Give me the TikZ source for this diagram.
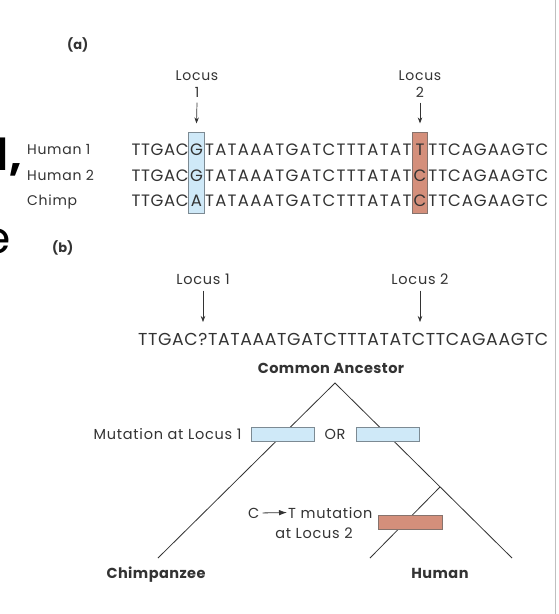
\documentclass[tikz,border=0pt]{standalone}
\usepackage{fontspec}
\setmainfont{Poppins}
\newfontfamily\trk[LetterSpace=5]{Poppins}
\newfontfamily\trkb[LetterSpace=3]{Poppins}
\usetikzlibrary{arrows.meta,fit,backgrounds,calc}
\definecolor{txt}{HTML}{333333}
\definecolor{bluef}{HTML}{CFE9F8}
\definecolor{blued}{HTML}{7C8A93}
\definecolor{salf}{HTML}{D48F7B}
\definecolor{sald}{HTML}{86736D}
\makeatletter
\newcommand\spreadto[2]{\hbox to #1{\@tfor\@sp:=#2\do{\@sp\hfil}\unskip}}
\makeatother
\begin{document}
\begin{tikzpicture}[x=1pt,y=-1pt,
  every node/.style={text=txt, inner sep=0pt},
  seq/.style={font=\fontsize{16.5}{18}\selectfont},
  seqb/.style={font=\fontsize{17.3}{19}\selectfont},
  lab/.style={font=\trk\fontsize{14}{17}\selectfont},
  labb/.style={font=\trk\fontsize{14.5}{17}\selectfont},
  bold/.style={font=\trkb\fontsize{14.5}{17}\selectfont\bfseries},
  tag/.style={font=\fontsize{13}{15}\selectfont\bfseries},
  ch/.style={seq, minimum width=15pt, anchor=base, text height=12pt, text depth=0pt},
  arr/.style={draw=txt, line width=0.7pt, -{Stealth[length=6pt,width=4.5pt]}},
  tree/.style={draw=txt, line width=0.8pt},
  bbox/.style={draw=blued, fill=bluef, line width=0.8pt, minimum width=63pt, minimum height=14pt},
  sbox/.style={draw=sald, fill=salf, line width=0.8pt, minimum width=64pt, minimum height=14pt},
  hl/.style={line width=0.8pt, inner sep=0pt},
  frag/.style={text=black, font=\fontsize{44}{44}\selectfont\bfseries}
]
\useasboundingbox (0,0) rectangle (558,614);
\begin{scope}[on background layer]
  \fill[white] (0,0) rectangle (558,614);
\end{scope}
\draw[black!25, line width=1.2pt] (555.5,0) -- (555.5,614);

% page fragments at the left edge
\node[frag, anchor=base east] (fd) at (9,170) {d};
\node[frag, anchor=base west] (fc) at (fd.base east) {,};
\node[frag, anchor=base east, font=\fontsize{44}{44}\selectfont] (fe) at (11,253) {e};

% ---------- (a) ----------
\node[tag, anchor=west] (ta) at (67,45) {(a)};

\node[lab, align=center] (l1) at (197,84) {Locus\\1};
\node[lab, align=center] (l2) at (420,84) {Locus\\2};

\node[lab, anchor=base west] (h1) at (27,154) {Human 1};
\node[lab, anchor=base west] (h2) at (27,180) {Human 2};
\node[lab, anchor=base west] (cp) at (27,205) {Chimp};

% characters at the two loci
\node[ch] (g1) at (196.5,155) {G};
\node[ch] (g2) at (196.5,181) {G};
\node[ch] (g3) at (196.5,206) {A};
\node[ch] (t1) at (420,155) {T};
\node[ch] (t2) at (420,181) {C};
\node[ch] (t3) at (420,206) {C};

\begin{scope}[on background layer]
  \node[hl, draw=blued, fill=bluef, fit={([yshift=10pt]g1.north west) ([yshift=-7pt]g3.south east)}] (box1) {};
  \node[hl, draw=sald, fill=salf, fit={([yshift=10pt]t1.north west) ([yshift=-7pt]t3.south east)}] (box2) {};
\end{scope}

\foreach \r/\a/\b in {1/g1/t1, 2/g2/t2, 3/g3/t3}{
  \node[seq, anchor=base east] (p\r) at (\a.base west) {\spreadto{57pt}{TTGAC}};
  \node[seq, anchor=base] (m\r) at ($(\a.base east)!0.5!(\b.base west)$) {\spreadto{206.5pt}{TATAAATGATCTTTATAT}};
  \node[seq, anchor=base west] (s\r) at ([xshift=0.5pt]\b.base east) {\spreadto{120pt}{TTCAGAAGTC}};
}

\draw[arr] ([yshift=-5pt]l1.south) -- ([yshift=9pt]box1.north);
\draw[arr] ([yshift=-5pt]l2.south) -- ([yshift=9pt]box2.north);

% ---------- (b) ----------
\node[tag, anchor=west] (tb) at (52,248) {(b)};

\node[labb] (lb1) at (203,279) {Locus 1};
\node[labb] (lb2) at (420,279) {Locus 2};
\coordinate (e1) at (203,322);
\coordinate (e2) at (420,322);
\draw[arr] ([yshift=-6pt]lb1.south) -- (e1);
\draw[arr] ([yshift=-6pt]lb2.south) -- (e2);

\node[seqb, anchor=base west] (anc) at (138,345) {\spreadto{410pt}{TTGAC?TATAAATGATCTTTATATCTTCAGAAGTC}};
\node[bold] (ca) at (331,368) {Common Ancestor};

\coordinate (apex) at (335,383);
\coordinate (chl) at (158,558);
\coordinate (hul) at (512,558);
\coordinate (split) at (440,487);
\coordinate (inl) at (370,558);
\draw[tree] (chl) -- (apex) -- (hul);
\draw[tree] (split) -- (inl);

\node[bbox] (b1) at (282.5,434) {};
\node[bbox] (b2) at (387.5,434) {};
\node[sbox] (s) at (410,522) {};

\node[labb, anchor=east] (mut) at ([xshift=-9pt]b1.west) {Mutation at Locus 1};
\node[labb] (or) at (335,434) {OR};

\node[labb, anchor=base west] (cc) at (248,518) {C};
\node[labb, anchor=base west] (tm) at (288,518) {T mutation};
\node[labb, anchor=base] (al) at (314,538) {at Locus 2};
\draw[draw=txt, line width=0.8pt, -{Latex[length=8pt,width=5.5pt]}] ([xshift=3pt]cc.east) -- ([xshift=-1pt]tm.west);

\node[bold, anchor=base] (chimp) at (156,578) {Chimpanzee};
\node[bold, anchor=base] (human) at (440,578) {Human};
\end{tikzpicture}
\end{document}
